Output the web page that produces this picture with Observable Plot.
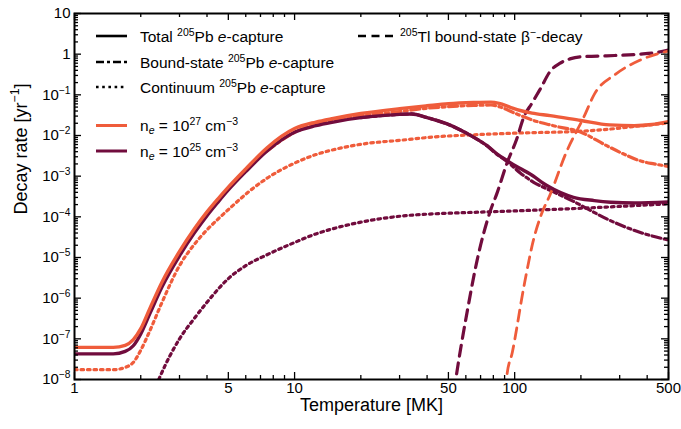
<!DOCTYPE html>
<html><head><meta charset="utf-8">
<script src="https://cdn.jsdelivr.net/npm/d3@7"></script>
<script src="https://cdn.jsdelivr.net/npm/@observablehq/plot@0.6"></script>
<style>
body{margin:0;background:#fff;}
#chart{width:681px;height:429px;}
</style></head><body><div id="chart"></div>
<script>
const ORANGE = "#ef5c3b", PURPLE = "#710c3d";
const FONT = "'Liberation Sans', Arial, Helvetica, sans-serif";

// ---- tick values / labels ----
const xMajor = [1, 5, 10, 50, 100, 500];
const xTickLabels = ["1", "5", "10", "50", "100", "500"];
const xMinor = [2, 3, 4, 6, 7, 8, 9, 20, 30, 40, 60, 70, 80, 90, 200, 300, 400];
const yMajor = [1e-8, 1e-7, 1e-6, 1e-5, 1e-4, 1e-3, 1e-2, 1e-1, 1, 10];
const yTickLabels = ["10^{−8}", "10^{−7}", "10^{−6}", "10^{−5}", "10^{−4}", "10^{−3}", "10^{−2}", "10^{−1}", "1", "10"];
const yMinor = yMajor.slice(0, -1).flatMap(d => [2, 3, 4, 5, 6, 7, 8, 9].map(m => m * d));

// ---- series: [Temperature (MK), decay rate (yr^-1)] ----
const tot27 = [[1,6.17e-8],[1.5,6.17e-8],[1.7,6.92e-8],[1.85,9.55e-8],[2,1.78e-7],[2.2,5.62e-7],[2.5,2.51e-6],[3,1.41e-5],[3.5,5.01e-5],[4,1.32e-4],[4.5,2.82e-4],[5,5.37e-4],[6,1.51e-3],[7.5,5.01e-3],[10,1.48e-2],[12.5,2.14e-2],[15,2.63e-2],[20,3.47e-2],[30,4.57e-2],[40,5.37e-2],[50,6.03e-2],[65,6.46e-2],[78,6.61e-2],[85,6.17e-2],[95,5.01e-2],[106,4.12e-2],[120,3.55e-2],[145,3.09e-2],[200,2.34e-2],[270,1.82e-2],[350,1.74e-2],[420,1.86e-2],[500,2.19e-2]];
const tot25 = [[1,4.27e-8],[1.5,4.27e-8],[1.7,4.9e-8],[1.85,6.76e-8],[2,1.32e-7],[2.2,4.17e-7],[2.5,1.91e-6],[3,1.1e-5],[3.5,3.98e-5],[4,1.07e-4],[4.5,2.34e-4],[5,4.57e-4],[6,1.29e-3],[7.5,4.17e-3],[10,1.2e-2],[12.5,1.74e-2],[15,2.14e-2],[20,2.75e-2],[25,3.09e-2],[30,3.31e-2],[34,3.39e-2],[40,2.75e-2],[49,1.95e-2],[57,1.35e-2],[65,9.12e-3],[75,5.62e-3],[83,3.55e-3],[92,2.45e-3],[105,1.58e-3],[117,1.15e-3],[140,5.89e-4],[185,3.02e-4],[230,2.51e-4],[273,2.29e-4],[350,2.19e-4],[500,2.34e-4]];
const bs27 = [[7.5,4.17e-3],[10,1.2e-2],[15,2.3e-2],[20,3.02e-2],[30,3.89e-2],[40,4.68e-2],[50,5.13e-2],[65,5.5e-2],[78,5.62e-2],[86,5.01e-2],[100,3.55e-2],[122,2.34e-2],[150,1.74e-2],[200,1.2e-2],[262,5.62e-3],[320,3.31e-3],[370,2.4e-3],[430,2.0e-3],[500,1.74e-3]];
const bs25 = [[20,2.75e-2],[30,3.31e-2],[34,3.39e-2],[40,2.75e-2],[49,1.95e-2],[57,1.35e-2],[65,9.12e-3],[75,5.5e-3],[83,3.47e-3],[92,2.34e-3],[106,1.2e-3],[122,7.08e-4],[145,4.47e-4],[185,2.4e-4],[207,1.74e-4],[262,8.91e-5],[370,4.17e-5],[500,2.69e-5]];
const co27 = [[1,1.74e-8],[1.5,1.74e-8],[1.74,2.09e-8],[1.85,2.63e-8],[2,5.25e-8],[2.2,1.58e-7],[2.5,7.94e-7],[3,6.31e-6],[3.5,2.09e-5],[4,4.79e-5],[4.5,8.91e-5],[5.3,2.0e-4],[6.2,4.17e-4],[7.5,8.91e-4],[10,2.09e-3],[12.5,3.39e-3],[15,4.47e-3],[21,6.31e-3],[30,7.59e-3],[42,9.12e-3],[70,1.06e-2],[117,1.17e-2],[172,1.23e-2],[250,1.38e-2],[347,1.66e-2],[500,2.04e-2]];
const co25 = [[2.35,7.08e-9],[2.46,1.26e-8],[3,1.0e-7],[3.5,3.16e-7],[4,7.94e-7],[5,3.02e-6],[6,6.31e-6],[7.5,1.17e-5],[10,2.34e-5],[12.5,3.8e-5],[15,5.13e-5],[20,7.41e-5],[25,9.12e-5],[32,1.07e-4],[45,1.2e-4],[65,1.29e-4],[132,1.48e-4],[262,1.74e-4],[500,2.09e-4]];
const tl25 = [[53,5.0e-9],[54,1.0e-8],[61,5.01e-7],[67.5,8.51e-6],[77.7,1.45e-4],[83,3.72e-4],[92,2.0e-3],[102,7.94e-3],[110,2.82e-2],[120,6.31e-2],[130,0.132],[146,0.398],[161,0.603],[180,0.776],[207,0.871],[262,0.912],[370,1.0],[450,1.12],[500,1.26]];
const tl27 = [[91,5.0e-9],[92,1.15e-8],[97.6,4.68e-8],[110,1.86e-6],[122,2.82e-5],[132,1.12e-4],[145,3.55e-4],[172,3.98e-3],[206,2.82e-2],[231,0.107],[286,0.316],[370,0.708],[500,1.2]];

const DOT = "2.6,3.9", DASH = "11,7", DASHDOT = "9,3.5,3,3.5";
const FW = 681 - 74 - 13, FH = 429 - 13 - 50;
const ln = (data, stroke, dash, w = 3.2) => Plot.line(data, {
  x: d => d[0], y: d => d[1], stroke, strokeWidth: w, strokeDasharray: dash,
  curve: "monotone-x", clip: true
});
const tk = {stroke: "#000", strokeWidth: 1.3};

const svg = Plot.plot({
  width: 681, height: 429,
  marginLeft: 74, marginRight: 13, marginTop: 13, marginBottom: 50,
  style: {fontFamily: FONT, fontSize: "15px", background: "#fff", color: "#000"},
  x: {type: "log", domain: [1, 500], axis: null},
  y: {type: "log", domain: [1e-8, 10], axis: null},
  marks: [
    ln(bs25, PURPLE, DASHDOT),
    ln(bs27, ORANGE, DASHDOT),
    ln(co25, PURPLE, DOT),
    ln(co27, ORANGE, DOT),
    ln(tl25, PURPLE, DASH),
    ln(tl27, ORANGE, DASH, 2.8),
    ln(tot25, PURPLE, null, 3.4),
    ln(tot27, ORANGE, null, 3.4),
    // inward ticks on all four sides
    Plot.tickX(xMajor, {x: d => d, insetTop: FH - 7, ...tk}),
    Plot.tickX(xMinor, {x: d => d, insetTop: FH - 4, ...tk}),
    Plot.tickX(xMajor, {x: d => d, insetBottom: FH - 7, ...tk}),
    Plot.tickX(xMinor, {x: d => d, insetBottom: FH - 4, ...tk}),
    Plot.tickY(yMajor, {y: d => d, insetRight: FW - 7, ...tk}),
    Plot.tickY(yMinor, {y: d => d, insetRight: FW - 4, ...tk}),
    Plot.tickY(yMajor, {y: d => d, insetLeft: FW - 7, ...tk}),
    Plot.tickY(yMinor, {y: d => d, insetLeft: FW - 4, ...tk}),
    // tick labels
    Plot.text(xMajor, {x: d => d, text: (d, i) => xTickLabels[i], frameAnchor: "bottom", dy: 13, fontSize: 15}),
    Plot.text(yMajor, {y: d => d, text: (d, i) => yTickLabels[i], frameAnchor: "left", dx: -4, textAnchor: "end", fontSize: 15}),
    // axis titles
    Plot.text(["Temperature [MK]"], {frameAnchor: "bottom", dy: 31, fontSize: 18}),
    Plot.text(["Decay rate [yr^{−1}]"], {frameAnchor: "left", dx: -53, dy: 18, rotate: -90, fontSize: 18}),
    Plot.frame({stroke: "#000", strokeWidth: 2})
  ]
});
document.getElementById("chart").appendChild(svg);

// ---- rich text (superscripts, subscripts, italics) ----
const NS = "http://www.w3.org/2000/svg";
function rich(el, str, fs) {
  const parts = str.split(/(\^\{[^}]*\}|_\{[^}]*\}|\*[^*]*\*)/g).filter(s => s !== "");
  el.textContent = "";
  for (const p of parts) {
    const t = document.createElementNS(NS, "tspan");
    let txt = p;
    if (p.startsWith("^{") || p.startsWith("_{")) {
      txt = p.slice(2, -1);
      t.setAttribute("font-size", (fs * 0.68).toFixed(1));
      t.setAttribute("baseline-shift", p[0] === "^" ? (fs * 0.42).toFixed(1) : (-fs * 0.2).toFixed(1));
    }
    if (txt.startsWith("*") && txt.endsWith("*") && txt.length > 1) {
      txt = txt.slice(1, -1);
      t.setAttribute("font-style", "italic");
    }
    t.textContent = txt;
    el.appendChild(t);
  }
}
d3.select(svg).selectAll("text").each(function () {
  const s = this.textContent;
  if (/\^\{|_\{/.test(s)) {
    const fs = parseFloat(getComputedStyle(this).fontSize) || 15;
    rich(this, s, fs);
  }
});

// ---- legend inside the frame ----
const LFS = 15.5;
const lg = d3.select(svg).append("g").attr("font-family", FONT).attr("font-size", LFS).attr("text-anchor", "start");
const legendRows = [
  {x: 96, y: 36, color: "#000", dash: null, w: 2.6, len: 31, label: "Total ^{205}Pb *e*-capture"},
  {x: 96, y: 62, color: "#000", dash: "8,3,3,3", w: 2.6, len: 31, label: "Bound-state ^{205}Pb *e*-capture"},
  {x: 96, y: 87, color: "#000", dash: "2.6,3.6", w: 2.6, len: 31, label: "Continuum ^{205}Pb *e*-capture"},
  {x: 96, y: 125.5, color: ORANGE, dash: null, w: 3, len: 31, label: "n_{*e*} = 10^{27} cm^{−3}"},
  {x: 96, y: 151, color: PURPLE, dash: null, w: 3, len: 31, label: "n_{*e*} = 10^{25} cm^{−3}"},
  {x: 358, y: 36, color: "#000", dash: "8,5.5", w: 2.6, len: 35, label: "^{205}Tl bound-state β^{−}-decay"}
];
for (const r of legendRows) {
  lg.append("line").attr("x1", r.x).attr("x2", r.x + r.len).attr("y1", r.y).attr("y2", r.y)
    .attr("stroke", r.color).attr("stroke-width", r.w).attr("stroke-dasharray", r.dash);
  const t = lg.append("text").attr("x", r.x + r.len + (r.len > 32 ? 7 : 13)).attr("y", r.y).attr("dy", "0.36em");
  rich(t.node(), r.label, LFS);
}
</script></body></html>
